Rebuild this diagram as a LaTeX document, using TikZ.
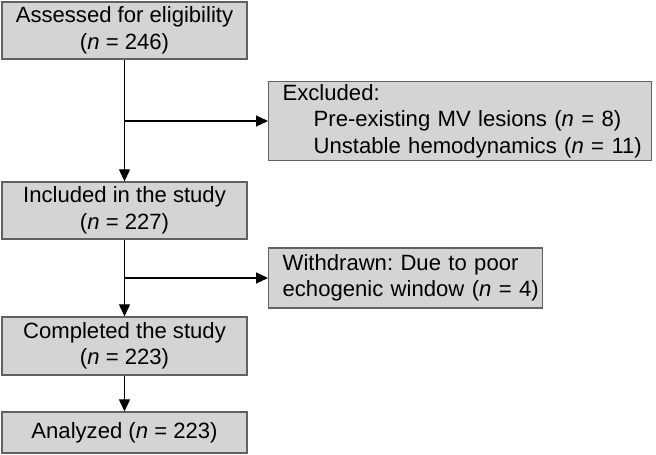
\documentclass[tikz,border=0pt]{standalone}
\usepackage{fontspec}
\setmainfont{Liberation Sans}
\usetikzlibrary{arrows.meta}
\frenchspacing

\tikzset{
    box/.style={draw=black!62, line width=1.3pt, fill=black!17, rectangle,
        minimum width=245pt, align=center, inner sep=0pt},
    sidebox/.style={draw=black!62, line width=1.3pt, fill=black!17, rectangle,
        align=left, inner xsep=7pt, inner ysep=0pt, anchor=west},
    arrow/.style={line width=1.1pt, -{Triangle[length=12pt,width=11pt]}}
}

\begin{document}
\begin{tikzpicture}[x=1pt, y=-1pt, font=\fontsize{22.1}{26.5}\selectfont]
    % Fix the size of the page
    \useasboundingbox (0,0) rectangle (656,455);

    % Main boxes down the left side
    \node[box, minimum height=57pt] (assess) at (124.5,30.5) {Assessed for eligibility\\(\textit{n} = 246)};
    \node[box, minimum height=57pt] (incl) at (124.5,210.5) {Included in the study\\(\textit{n} = 227)};
    \node[box, minimum height=58pt] (compl) at (124.5,346) {Completed the study\\(\textit{n} = 223)};
    \node[box, minimum height=41pt] (anal) at (124.5,432.5) {Analyzed (\textit{n} = 223)};

    % Boxes on the right for those taken out
    \node[sidebox, text width=369pt, minimum height=79pt] (excl) at (268,121) {\mbox{\hspace*{7pt}Excluded:}\\
        \mbox{\hspace*{38pt}Pre-existing MV lesions (\textit{n} = 8)}\\
        \mbox{\hspace*{38pt}Unstable hemodynamics (\textit{n} = 11)}};
    \node[sidebox, text width=260pt, minimum height=60pt] (withd) at (268,278) {\mbox{\hspace*{7pt}Withdrawn: Due to poor}\\\mbox{\hspace*{7pt}echogenic window (\textit{n} = 4)}};

    % Arrows between the boxes
    \draw[arrow] (assess.south) -- (incl.north);
    \draw[arrow] (assess.south |- excl.west) -- (excl.west);
    \draw[arrow] (incl.south) -- (compl.north);
    \draw[arrow] (incl.south |- withd.west) -- (withd.west);
    \draw[arrow] (compl.south) -- (anal.north);
\end{tikzpicture}
\end{document}
